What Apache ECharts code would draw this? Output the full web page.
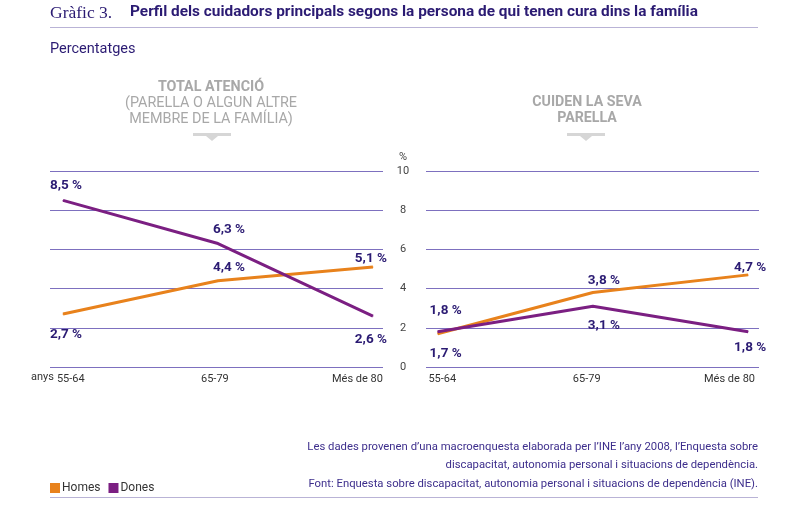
<!DOCTYPE html>
<html>
<head>
<meta charset="utf-8">
<script src="https://cdn.jsdelivr.net/npm/echarts@6/dist/echarts.min.js"></script>
<style>
  html, body { margin: 0; padding: 0; background: #fff; }
  #chart { width: 800px; height: 514px; }
</style>
</head>
<body>
<div id="chart"></div>
<script>
// dades
const categories = ['55-64', '65-79', 'Més de 80']
const yTicks = [0, 2, 4, 6, 8, 10]
const totalHomes = [2.7, 4.4, 5.1]
const totalDones = [8.5, 6.3, 2.6]
const parellaHomes = [1.7, 3.8, 4.7]
const parellaDones = [1.8, 3.1, 1.8]

// on va cada etiqueta (només estil)
const totalHomesLbl = [['bottom', 3, 7], ['top', 11, 0], ['top', -2, 5]]
const totalDonesLbl = [['top', 3, -1], ['top', 11, 0], ['bottom', -2, 10]]
const parellaHomesLbl = [['bottom', 8, 6], ['top', 11, 2], ['top', 2, 6]]
const parellaDonesLbl = [['top', 8, -8], ['bottom', 11, 6], ['bottom', 2, 2]]
// les etiquetes de categoria no cauen just sota els punts
const totalTickPos = [0.05, 0.98, 1.9]
const parellaTickPos = [0.03, 0.96, 1.88]

const NAVY = '#2b1b73'
const ORANGE = '#e8821c'
const PURPLE = '#7b1f82'
const GRID = '#7d70bf'
const FONT = 'Roboto, "Liberation Sans", sans-serif'

const fmt = v => v.toFixed(1).replace('.', ',') + ' %'

function points(vals, lbl) {
  return vals.map((v, i) => ({
    value: [i, v],
    label: { position: lbl[i][0], offset: [lbl[i][1], lbl[i][2]] }
  }))
}

function lineSeries(name, color, idx, vals, lbl) {
  return {
    name: name,
    type: 'line',
    xAxisIndex: idx,
    yAxisIndex: idx,
    data: points(vals, lbl),
    symbol: 'circle',
    symbolSize: 1,
    itemStyle: { color: color },
    lineStyle: { color: color, width: 3 },
    label: {
      show: true,
      distance: 6,
      color: NAVY,
      fontFamily: FONT,
      fontWeight: 'bold',
      fontSize: 13.5,
      formatter: p => fmt(p.value[1])
    },
    emphasis: { disabled: true },
    z: name === 'Homes' ? 3 : 4
  }
}

function xAxis(idx, min, max, ticks) {
  return {
    type: 'value',
    gridIndex: idx,
    min: min,
    max: max,
    axisLine: { show: false },
    axisTick: { show: false },
    splitLine: { show: false },
    axisLabel: {
      customValues: ticks,
      formatter: v => categories[Math.round(v)],
      color: '#333',
      fontFamily: FONT,
      fontSize: 11,
      margin: 7
    }
  }
}

function yAxis(idx, showLabels) {
  return {
    type: 'value',
    gridIndex: idx,
    min: 0,
    max: 10,
    interval: 2,
    axisLine: { show: false },
    axisTick: { show: false },
    splitLine: { lineStyle: { color: GRID, width: 1 } },
    axisLabel: {
      show: showLabels,
      align: 'center',
      margin: 23,
      color: '#444',
      fontFamily: FONT,
      fontSize: 11,
      formatter: v => yTicks.indexOf(v) >= 0 ? String(v) : ''
    }
  }
}

function arrow(cx) {
  return [
    { type: 'rect', shape: { x: cx - 19, y: 133, width: 38, height: 3 }, style: { fill: '#d6d6d6' } },
    { type: 'polygon', shape: { points: [[cx - 6, 136], [cx + 6, 136], [cx, 141]] }, style: { fill: '#d6d6d6' } }
  ]
}

const chart = echarts.init(document.getElementById('chart'))
chart.setOption({
  animation: false,
  backgroundColor: '#fff',
  grid: [
    { left: 50, right: 417, top: 171, height: 196 },
    { left: 426, right: 41, top: 171, height: 196 }
  ],
  xAxis: [xAxis(0, -0.084, 2.065, totalTickPos), xAxis(1, -0.075, 2.07, parellaTickPos)],
  yAxis: [yAxis(0, false), yAxis(1, true)],
  legend: {
    left: 45,
    top: 477,
    icon: 'rect',
    itemWidth: 10,
    itemHeight: 10,
    itemGap: 8,
    textStyle: { color: '#333', fontFamily: FONT, fontSize: 12, padding: [0, 0, 0, -3] },
    data: ['Homes', 'Dones']
  },
  series: [
    lineSeries('Homes', ORANGE, 0, totalHomes, totalHomesLbl),
    lineSeries('Dones', PURPLE, 0, totalDones, totalDonesLbl),
    lineSeries('Homes', ORANGE, 1, parellaHomes, parellaHomesLbl),
    lineSeries('Dones', PURPLE, 1, parellaDones, parellaDonesLbl)
  ],
  graphic: [
    { type: 'text', left: 50, top: 4, style: { text: 'Gràfic 3.', fill: NAVY, font: '17.5px "Liberation Serif", serif' } },
    { type: 'text', left: 130, top: 5, style: { text: 'Perfil dels cuidadors principals segons la persona de qui tenen cura dins la família', fill: NAVY, font: 'bold 15.4px ' + FONT } },
    { type: 'rect', shape: { x: 50, y: 27, width: 708, height: 1 }, style: { fill: '#b9b3d6' } },
    { type: 'text', left: 50, top: 42, style: { text: 'Percentatges', fill: NAVY, font: '14.5px ' + FONT } },
    { type: 'text', x: 211, y: 80, style: { text: 'TOTAL ATENCIÓ', align: 'center', fill: '#a8a8a8', font: 'bold 14.3px ' + FONT } },
    { type: 'text', x: 211, y: 96, style: { text: '(PARELLA O ALGUN ALTRE\nMEMBRE DE LA FAMÍLIA)', align: 'center', lineHeight: 15.5, fill: '#a8a8a8', font: '14.4px ' + FONT } },
    { type: 'text', x: 587, y: 95, style: { text: 'CUIDEN LA SEVA\nPARELLA', align: 'center', lineHeight: 15.5, fill: '#a8a8a8', font: 'bold 14.2px ' + FONT } },
    ...arrow(212),
    ...arrow(586),
    { type: 'text', x: 403, y: 152, style: { text: '%', align: 'center', fill: '#444', font: '11px ' + FONT } },
    { type: 'text', x: 31, y: 372, style: { text: 'anys', fill: '#333', font: '11px ' + FONT } },
    { type: 'text', x: 758, y: 438, style: { text: 'Les dades provenen d’una macroenquesta elaborada per l’INE l’any 2008, l’Enquesta sobre\ndiscapacitat, autonomia personal i situacions de dependència.', align: 'right', lineHeight: 18, fill: '#3d2e8c', font: '11.3px ' + FONT } },
    { type: 'text', x: 758, y: 479, style: { text: 'Font: Enquesta sobre discapacitat, autonomia personal i situacions de dependència (INE).', align: 'right', fill: '#3d2e8c', font: '11.3px ' + FONT } },
    { type: 'rect', shape: { x: 50, y: 497, width: 708, height: 1 }, style: { fill: '#b9b3d6' } }
  ]
})
</script>
</body>
</html>
